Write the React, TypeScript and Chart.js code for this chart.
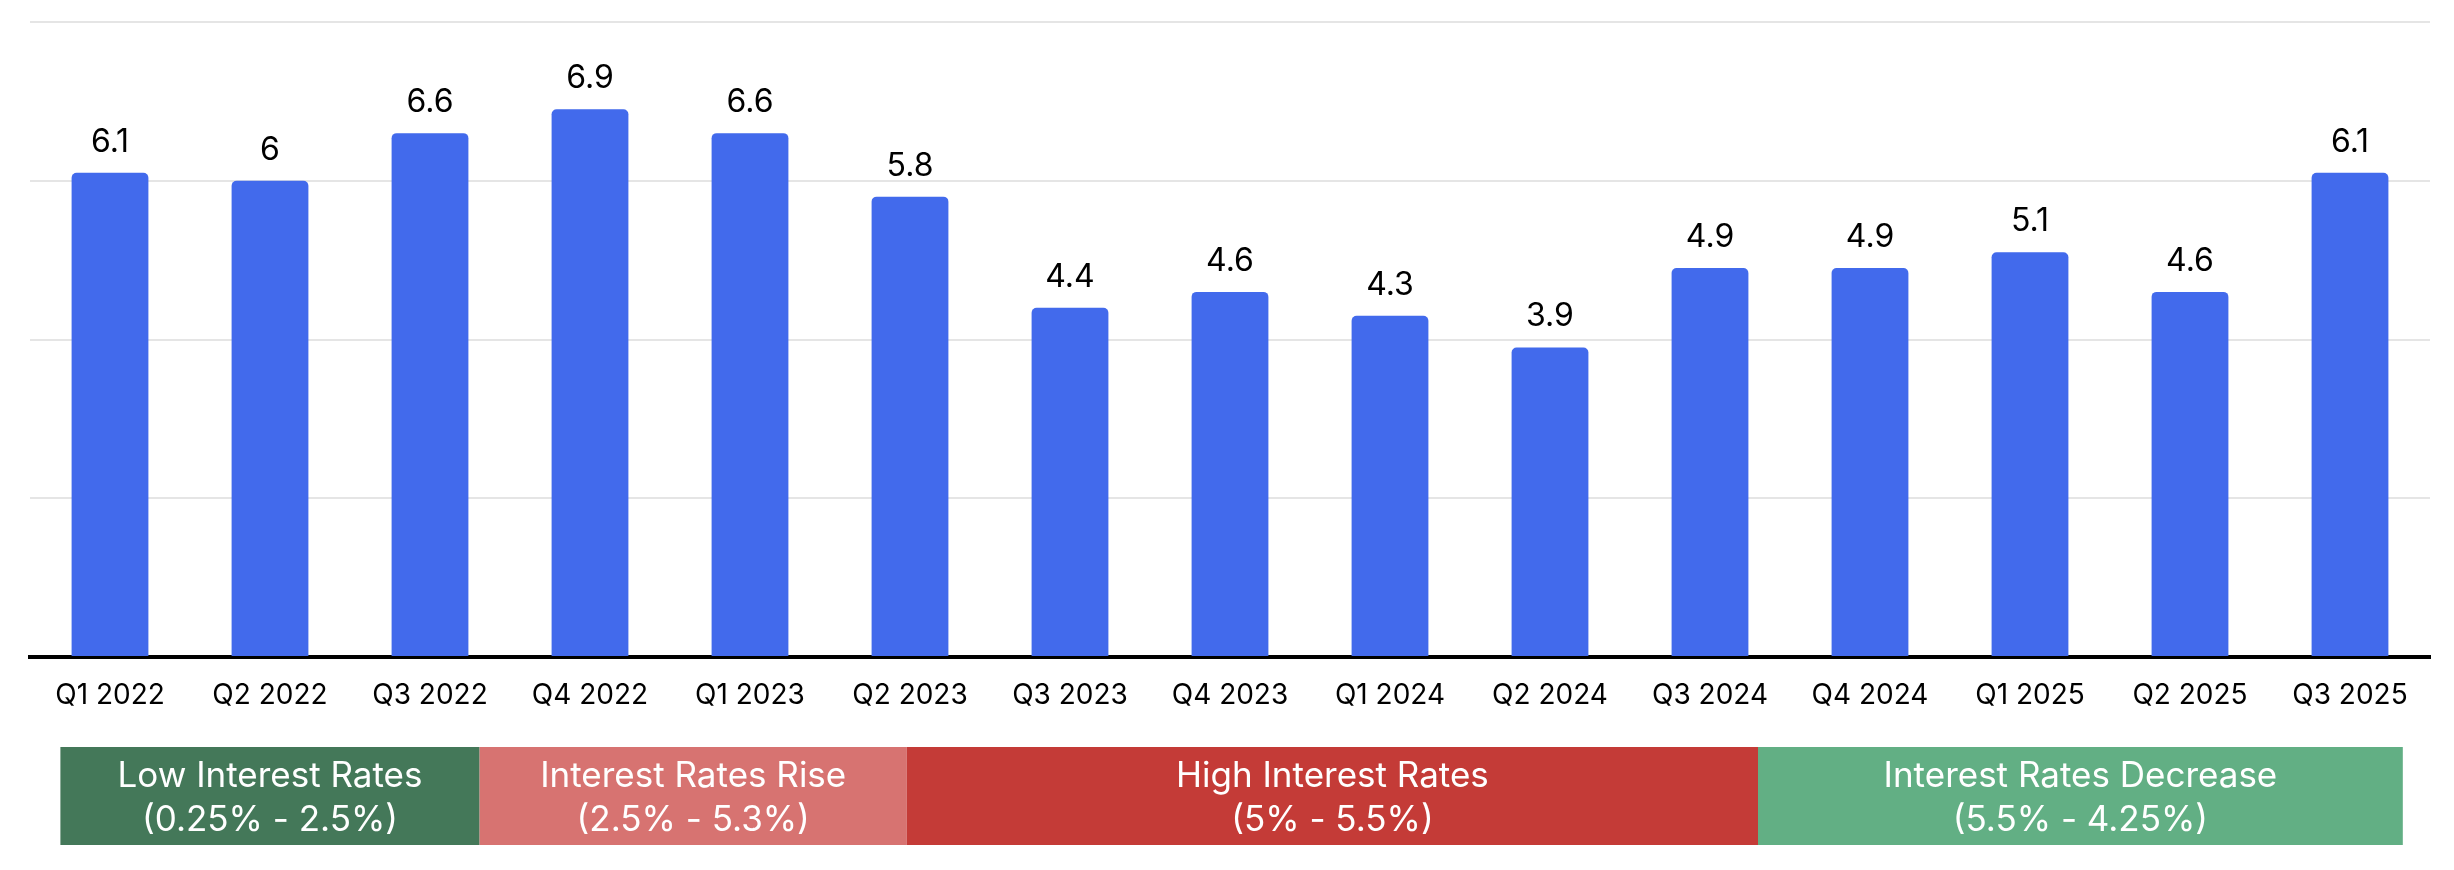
import React, { useEffect, useRef } from "react";
import { Chart, registerables } from "chart.js";

Chart.register(...registerables);

const categories = [
  "Q1 2022", "Q2 2022", "Q3 2022", "Q4 2022", "Q1 2023", "Q2 2023", "Q3 2023", "Q4 2023",
  "Q1 2024", "Q2 2024", "Q3 2024", "Q4 2024", "Q1 2025", "Q2 2025", "Q3 2025",
];
const values = [6.1, 6, 6.6, 6.9, 6.6, 5.8, 4.4, 4.6, 4.3, 3.9, 4.9, 4.9, 5.1, 4.6, 6.1];

const bandLine1 = ["Low Interest Rates", "Interest Rates Rise", "High Interest Rates", "Interest Rates Decrease"];
const bandLine2 = ["(0.25% - 2.5%)", "(2.5% - 5.3%)", "(5% - 5.5%)", "(5.5% - 4.25%)"];
const bandStart = [-0.31, 2.31, 4.98, 10.3];
const bandEnd = [2.31, 4.98, 10.3, 14.33];
const bandColors = ["#447859", "#D77371", "#C43B37", "#62AF84"];

const FONT = "Inter, 'Noto Sans', sans-serif";

const valueLabels = {
  id: "valueLabels",
  afterDatasetsDraw(chart: any) {
    const ctx = chart.ctx;
    const meta = chart.getDatasetMeta(0);
    ctx.save();
    ctx.fillStyle = "#000";
    ctx.font = `32px ${FONT}`;
    ctx.textAlign = "center";
    ctx.textBaseline = "alphabetic";
    meta.data.forEach((bar: any, i: number) => {
      ctx.fillText(String(values[i]), bar.x, bar.y - 21);
    });
    ctx.restore();
  },
};

const bands = {
  id: "bands",
  afterDraw(chart: any) {
    const ctx = chart.ctx;
    const xs = chart.scales.x;
    const top = chart.chartArea.bottom + 90;
    const h = 98;
    ctx.save();
    bandStart.forEach((s, i) => {
      const x0 = xs.getPixelForValue(s);
      const x1 = xs.getPixelForValue(bandEnd[i]);
      ctx.fillStyle = bandColors[i];
      ctx.fillRect(x0, top, x1 - x0, h);
      ctx.fillStyle = "#fff";
      ctx.font = `35px ${FONT}`;
      ctx.textAlign = "center";
      ctx.textBaseline = "alphabetic";
      const cx = (x0 + x1) / 2;
      ctx.fillText(bandLine1[i], cx, top + 40);
      ctx.fillText(bandLine2[i], cx, top + 84);
    });
    ctx.restore();
  },
};

export default function App() {
  const ref = useRef<HTMLCanvasElement>(null);
  useEffect(() => {
    if (!ref.current) return;
    const chart = new Chart(ref.current, {
      type: "bar",
      data: {
        labels: categories,
        datasets: [
          {
            data: values,
            backgroundColor: "#426AEC",
            borderRadius: { topLeft: 5, topRight: 5, bottomLeft: 0, bottomRight: 0 },
            borderSkipped: "bottom",
            categoryPercentage: 1,
            barPercentage: 0.48,
          },
        ],
      },
      options: {
        responsive: false,
        animation: false,
        devicePixelRatio: 1,
        layout: { padding: { left: 30, right: 24, top: 22, bottom: 153 } },
        plugins: { legend: { display: false }, tooltip: { enabled: false } },
        scales: {
          x: {
            grid: { display: false, drawTicks: false },
            border: { color: "#000", width: 4 },
            ticks: { color: "#000", font: { family: FONT, size: 28 }, padding: 22, maxRotation: 0, autoSkip: false },
            afterFit: (s: any) => { s.height = 60; },
          },
          y: {
            min: 0,
            max: 8,
            ticks: { display: false, stepSize: 2 },
            grid: { color: "#E5E5E5", lineWidth: 2, drawTicks: false },
            border: { display: false },
            afterFit: (s: any) => { s.width = 0; },
          },
        },
      },
      plugins: [valueLabels, bands],
    });
    return () => chart.destroy();
  }, []);
  return (
    <div style={{ position: "absolute", left: 0, top: 0, width: 2454, height: 870, background: "#fff" }}>
      <canvas ref={ref} width={2454} height={870} />
    </div>
  );
}
